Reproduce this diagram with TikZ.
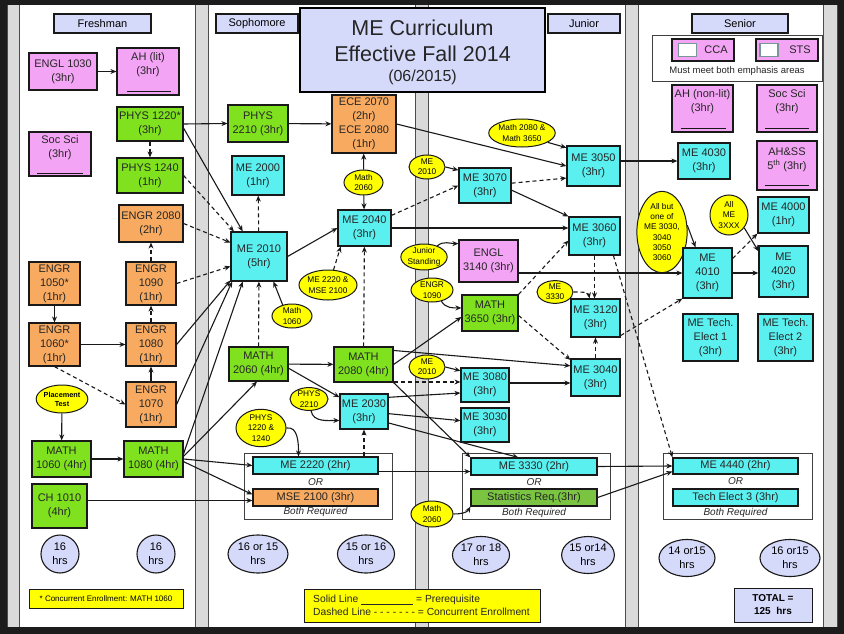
\documentclass[tikz,border=0pt]{standalone}
\usepackage{fontspec}
\setmainfont{Liberation Sans}
\usetikzlibrary{arrows.meta,shapes.geometric,calc}
\definecolor{pinkc}{RGB}{244,164,244}
\definecolor{greenc}{RGB}{128,226,30}
\definecolor{cyanc}{RGB}{90,240,240}
\definecolor{orangec}{RGB}{247,170,96}
\definecolor{yellowc}{RGB}{255,255,0}
\definecolor{lavc}{RGB}{214,218,250}
\definecolor{bandc}{RGB}{218,218,218}
\definecolor{darkc}{RGB}{28,28,28}
\definecolor{statc}{RGB}{122,196,66}
\definecolor{linec}{RGB}{25,25,25}
\definecolor{sqc}{RGB}{120,150,150}
\tikzset{
 box/.style={draw=linec, line width=1.2pt, rectangle, inner sep=0.5pt, align=center, font=\fontsize{11}{14}\selectfont, text=black!85},
 pbox/.style={box, fill=pinkc},
 gbox/.style={box, fill=greenc},
 cbox/.style={box, fill=cyanc},
 obox/.style={box, fill=orangec},
 yell/.style={draw=linec, line width=1pt, ellipse, fill=yellowc, inner sep=0pt, align=center, font=\fontsize{8.3}{10.3}\selectfont},
 hrs/.style={draw=linec, line width=1.1pt, ellipse, fill=lavc, inner sep=0pt, align=center, font=\fontsize{11}{14}\selectfont},
 head/.style={draw=linec, line width=1.1pt, fill=lavc, align=center, font=\fontsize{11}{13}\selectfont},
 grp/.style={draw=black!75, line width=0.9pt, fill=white},
 pre/.style={draw=linec, line width=1.1pt, -{Stealth[length=6pt,width=5pt]}},
 con/.style={pre, dash pattern=on 4pt off 3pt},
 lbl/.style={inner sep=0pt, align=center, font=\fontsize{11}{14}\selectfont, text=black!85},
 itl/.style={inner sep=0pt, font=\fontsize{10}{12}\selectfont\itshape, text=black!85},
 uline/.style={draw=linec, line width=0.9pt},
}
\begin{document}
\begin{tikzpicture}[x=1pt,y=-1pt]
\useasboundingbox (0,0) rectangle (844,634);
% background
\fill[darkc] (0,0) rectangle (844,634);
\fill[white] (7,5) rectangle (837,627);
\foreach \a/\b in {7/19,195/208,415/428,625/638,823/837}{
  \fill[bandc] (\a,5) rectangle (\b,627);
  \draw[black!70, line width=0.8pt] (\a,5) -- (\a,627) (\b,5) -- (\b,627);
}
% headers
\node[head, minimum width=97pt, minimum height=19pt] (hfr) at (102.5,23.5) {Freshman};
\node[head, minimum width=82pt, minimum height=19pt] (hso) at (257,23.5) {Sophomore};
\node[head, minimum width=72pt, minimum height=19pt] (hju) at (584,23.5) {Junior};
\node[head, minimum width=96pt, minimum height=19pt] (hse) at (740,23.5) {Senior};
% title
\node[draw=black, line width=2.4pt, fill=lavc, minimum width=245pt, minimum height=84pt] (title) at (422.5,50) {};
\node[lbl, font=\fontsize{21.5}{26}\selectfont] (title1) at (422.5,41) {ME Curriculum\\Effective Fall 2014};
\node[lbl, font=\fontsize{16}{18}\selectfont] (title2) at (422.5,77) {(06/2015)};
% senior legend
\node[draw=black!75, line width=0.9pt, fill=white, minimum width=170pt, minimum height=46pt] (slg) at (737,58) {};
\node[pbox, minimum width=62pt, minimum height=22pt] (cca) at (703,50) {};
\node[draw=sqc, line width=1.8pt, fill=white, minimum width=18pt, minimum height=13pt, inner sep=0pt] (ccasq) at (687.5,50) {};
\node[lbl] (ccat) at (716,50) {CCA};
\node[pbox, minimum width=62pt, minimum height=22pt] (sts) at (787,50) {};
\node[draw=sqc, line width=1.8pt, fill=white, minimum width=18pt, minimum height=13pt, inner sep=0pt] (stssq) at (769,50) {};
\node[lbl] (stst) at (800,50) {STS};
\node[lbl, font=\fontsize{9.5}{11}\selectfont] (slgt) at (737,71) {Must meet both emphasis areas};
% ---------------- Freshman
\node[pbox, minimum width=68pt, minimum height=37pt] (engl1030) at (63,71.5) {ENGL 1030\\(3hr)};
\node[pbox, minimum width=62pt, minimum height=47pt] (ahlit) at (148,71.5) {};
\node[lbl] (ahlitt) at (148,65) {AH (lit)\\(3hr)};
\draw[uline] (127,91) -- (171,91);
\node[gbox, minimum width=66pt, minimum height=34pt] (phys1220) at (150,124) {PHYS 1220*\\(3hr)};
\node[pbox, minimum width=62pt, minimum height=44pt] (socsci1) at (60,154) {};
\node[lbl] (socsci1t) at (60,148) {Soc Sci\\(3hr)};
\draw[uline] (37,173) -- (83,173);
\node[gbox, minimum width=66pt, minimum height=35pt] (phys1240) at (150,175.5) {PHYS 1240\\(1hr)};
\node[obox, minimum width=64pt, minimum height=37pt] (engr2080) at (151,223.5) {ENGR 2080\\(2hr)};
\node[obox, minimum width=51pt, minimum height=43pt] (engr1050) at (54.5,283.5) {ENGR\\1050*\\(1hr)};
\node[obox, minimum width=50pt, minimum height=43pt] (engr1090) at (151,283.5) {ENGR\\1090\\(1hr)};
\node[obox, minimum width=51pt, minimum height=43pt] (engr1060) at (54.5,344.5) {ENGR\\1060*\\(1hr)};
\node[obox, minimum width=50pt, minimum height=43pt] (engr1080) at (151,344.5) {ENGR\\1080\\(1hr)};
\node[obox, minimum width=50pt, minimum height=45pt] (engr1070) at (151,404.5) {ENGR\\1070\\(1hr)};
\node[yell, minimum width=49pt, minimum height=28pt, font=\fontsize{7.3}{9}\selectfont\bfseries] (placement) at (62,399) {Placement\\Test};
\node[gbox, minimum width=59pt, minimum height=36pt] (math1060) at (61.5,459) {MATH\\1060 (4hr)};
\node[gbox, minimum width=59pt, minimum height=36pt] (math1080) at (153.5,459) {MATH\\1080 (4hr)};
\node[gbox, minimum width=55pt, minimum height=44pt] (ch1010) at (59.5,506) {CH 1010\\(4hr)};
\node[hrs, minimum width=38pt, minimum height=38pt] (h1) at (60,554) {16\\hrs};
\node[hrs, minimum width=38pt, minimum height=38pt] (h2) at (156,554) {16\\hrs};
\node[draw=linec, line width=0.9pt, fill=yellowc, minimum width=154pt, minimum height=19pt, font=\fontsize{8}{9}\selectfont, inner sep=0pt] (note) at (106,598.5) {* Concurrent Enrollment: MATH 1060};
% ---------------- Sophomore
\node[gbox, minimum width=60pt, minimum height=37pt] (phys2210) at (258,123.5) {PHYS\\2210 (3hr)};
\node[obox, minimum width=64pt, minimum height=58pt] (ece) at (364,124) {ECE 2070\\(2hr)\\ECE 2080\\(1hr)};
\node[cbox, minimum width=52pt, minimum height=39pt] (me2000) at (258,175.5) {ME 2000\\(1hr)};
\node[yell, minimum width=39pt, minimum height=25pt] (em2060a) at (363.5,182.5) {Math\\2060};
\node[cbox, minimum width=56pt, minimum height=49pt] (me2010) at (259,256.5) {ME 2010\\(5hr)};
\node[cbox, minimum width=53pt, minimum height=36pt] (me2040) at (364.5,228) {ME 2040\\(3hr)};
\node[yell, minimum width=57pt, minimum height=30pt] (eme2220) at (328,285) {ME 2220 \&\\MSE 2100};
\node[yell, minimum width=40pt, minimum height=24pt] (em1060) at (292,316) {Math\\1060};
\node[gbox, minimum width=59pt, minimum height=34pt] (math2060) at (258.5,364) {MATH\\2060 (4hr)};
\node[gbox, minimum width=59pt, minimum height=35pt] (math2080) at (363.5,364.5) {MATH\\2080 (4hr)};
\node[yell, minimum width=38pt, minimum height=22pt] (ephys2210) at (309,399) {PHYS\\2210};
\node[cbox, minimum width=48pt, minimum height=35pt] (me2030) at (364,411.5) {ME 2030\\(3hr)};
\node[yell, minimum width=50pt, minimum height=36pt] (ephys1220) at (261,428) {PHYS\\1220 \&\\1240};
\draw[grp] (244,453) rectangle (392,519);
\node[cbox, minimum width=125pt, minimum height=17pt] (me2220) at (315.5,465.5) {ME 2220 (2hr)};
\node[itl] (or1) at (315.5,482) {OR};
\node[obox, minimum width=125pt, minimum height=17pt] (mse2100) at (315.5,497.5) {MSE 2100 (3hr)};
\node[itl] (br1) at (315.5,512) {Both Required};
\node[hrs, minimum width=60pt, minimum height=38pt] (h3) at (258,554) {16 or 15\\hrs};
\node[hrs, minimum width=55pt, minimum height=38pt] (h4) at (366,554) {15 or 16\\hrs};
\node[draw=linec, line width=0.9pt, fill=yellowc, minimum width=236pt, minimum height=33pt] (legend) at (422,605.5) {};
\node[inner sep=0pt, align=left, anchor=west, font=\fontsize{10.3}{12.7}\selectfont, text=black!85] (legendt) at (313,605.5) {Solid Line \underline{\hspace{52pt}} = Prerequisite\\Dashed Line - - - - - - - = Concurrent Enrollment};
% ---------------- Junior
\node[yell, minimum width=36pt, minimum height=24pt] (eme2010a) at (427,167) {ME\\2010};
\node[yell, minimum width=64pt, minimum height=28pt] (em2080) at (522,133) {Math 2080 \&\\Math 3650};
\node[cbox, minimum width=52pt, minimum height=35pt] (me3070) at (485,185.5) {ME 3070\\(3hr)};
\node[cbox, minimum width=53pt, minimum height=40pt] (me3050) at (593.5,166) {ME 3050\\(3hr)};
\node[cbox, minimum width=51pt, minimum height=38pt] (me3060) at (594.5,236) {ME 3060\\(3hr)};
\node[yell, minimum width=44pt, minimum height=26pt] (ejunior) at (424,257) {Junior\\Standing};
\node[pbox, minimum width=59pt, minimum height=42pt] (engl3140) at (488.5,261) {ENGL\\3140 (3hr)};
\node[yell, minimum width=42pt, minimum height=24pt] (eengr1090) at (432,290) {ENGR\\1090};
\node[gbox, minimum width=56pt, minimum height=36pt] (math3650) at (490,313) {MATH\\3650 (3hr)};
\node[yell, minimum width=36pt, minimum height=22pt] (eme3330) at (555,292) {ME\\3330};
\node[cbox, minimum width=49pt, minimum height=38pt] (me3120) at (595.5,318) {ME 3120\\(3hr)};
\node[yell, minimum width=36pt, minimum height=24pt] (eme2010b) at (427,367) {ME\\2010};
\node[cbox, minimum width=49pt, minimum height=37pt] (me3040) at (595.5,377.5) {ME 3040\\(3hr)};
\node[cbox, minimum width=48pt, minimum height=34pt] (me3080) at (485,385) {ME 3080\\(3hr)};
\node[cbox, minimum width=48pt, minimum height=34pt] (me3030) at (485,425) {ME 3030\\(3hr)};
\draw[grp] (462,453) rectangle (610,519);
\node[cbox, minimum width=126pt, minimum height=17pt] (me3330) at (534,466.5) {ME 3330 (2hr)};
\node[itl] (or2) at (534,482) {OR};
\node[box, fill=statc, minimum width=126pt, minimum height=17pt] (stats) at (534,497.5) {Statistics Req.(3hr)};
\node[itl] (br2) at (534,513) {Both Required};
\node[yell, minimum width=42pt, minimum height=26pt] (em2060b) at (432,514) {Math\\2060};
\node[hrs, minimum width=56pt, minimum height=37pt] (h5) at (481,555) {17 or 18\\hrs};
\node[hrs, minimum width=50pt, minimum height=37pt] (h6) at (588,555) {15 or14\\hrs};
% ---------------- Senior
\node[pbox, minimum width=61pt, minimum height=47pt] (ahnon) at (702.5,108.5) {};
\node[lbl] (ahnont) at (702.5,102) {AH (non-lit)\\(3hr)};
\draw[uline] (681,128) -- (726,128);
\node[pbox, minimum width=60pt, minimum height=47pt] (socsci2) at (787,108.5) {};
\node[lbl] (socsci2t) at (787,102) {Soc Sci\\(3hr)};
\draw[uline] (765,128) -- (809,128);
\node[cbox, minimum width=52pt, minimum height=36pt] (me4030) at (704,161) {ME 4030\\(3hr)};
\node[pbox, minimum width=60pt, minimum height=49pt] (ahss) at (787,165.5) {};
\node[lbl] (ahsst) at (787,160) {AH\&SS\\5\textsuperscript{th} (3hr)};
\draw[uline] (765,185) -- (809,185);
\node[yell, minimum width=44pt, minimum height=72pt] (eallbut) at (662,232) {All but\\one of\\ME 3030,\\3040\\3050\\3060};
\node[yell, minimum width=38pt, minimum height=40pt] (eallme) at (729,215) {All\\ME\\3XXX};
\node[cbox, minimum width=51pt, minimum height=36pt] (me4000) at (783.5,215) {ME 4000\\(1hr)};
\node[cbox, minimum width=49pt, minimum height=50pt] (me4010) at (707.5,273) {ME\\4010\\(3hr)};
\node[cbox, minimum width=49pt, minimum height=51pt] (me4020) at (783.5,271.5) {ME\\4020\\(3hr)};
\node[cbox, minimum width=55pt, minimum height=47pt] (te1) at (710.5,337.5) {ME Tech.\\Elect 1\\(3hr)};
\node[cbox, minimum width=55pt, minimum height=47pt] (te2) at (785.5,337.5) {ME Tech.\\Elect 2\\(3hr)};
\draw[grp] (663,453) rectangle (812,519);
\node[cbox, minimum width=125pt, minimum height=16pt] (me4440) at (735.5,466) {ME 4440 (2hr)};
\node[itl] (or3) at (735.5,481) {OR};
\node[cbox, minimum width=125pt, minimum height=17pt] (te3) at (735.5,497.5) {Tech Elect 3 (3hr)};
\node[itl] (br3) at (735.5,513) {Both Required};
\node[hrs, minimum width=56pt, minimum height=37pt] (h7) at (687,558) {14 or15\\hrs};
\node[hrs, minimum width=60pt, minimum height=37pt] (h8) at (790,558) {16 or15\\hrs};
\node[draw=linec, line width=1pt, fill=lavc, minimum width=78pt, minimum height=34pt, align=center, font=\fontsize{10}{13}\selectfont\bfseries] (total) at (773,605) {TOTAL =\\125\ \ hrs};
% ================= connectors
% Freshman
\draw[pre] (engl1030) -- (ahlit);
\draw[con] (phys1220) -- (phys1240);
\draw[pre] (phys1220.east) -- (phys2210.west);
\draw[pre] (phys1220.-7) -- (me2010.123);
\draw[con] (phys1240.east) -- (me2010.135);
\draw[con] (engr2080.east) -- (me2010.154);
\draw[con] (engr1090.east) -- (me2010.199);
\draw[pre] (engr1080.east) -- (me2010.220);
\draw[pre] (engr1070.east) -- (me2010.223);
\draw[pre] (math1080.10) -- (me2010.237);
\draw[pre] (math1080.5) -- (math2060.265);
\draw[pre] (math1080.east) -- (me2220.west);
\draw[pre] (math1080.-5) -- ([yshift=3pt]mse2100.west);
\coordinate (chin) at ([yshift=-3pt]mse2100.west);
\draw[pre] (ch1010.east |- chin) -- (chin);
\draw[pre] (engr1050) -- (engr1060);
\draw[pre] (engr1060) -- (engr1080);
\draw[con] (engr1060.south) -- (engr1070.west);
\draw[pre] (engr1070) -- (engr1080);
\draw[con] (engr1080) -- (engr1090);
\draw[con] (engr1090) -- (engr2080);
\draw[pre] (placement) -- (math1060);
\draw[pre] (math1060) -- (math1080);
% Sophomore
\draw[pre] (phys2210) -- (ece);
\draw[pre] (ece.east) -- (me3050.west);
\draw[pre] (em2060a) -- (ece);
\draw[pre] (em2060a) -- (me2040);
\draw[con] (me2010) -- (me2000);
\draw[pre] (me2010.east) -- (me2040.west);
\draw[con] (eme2220.70) -- (me2040.218);
\draw[pre] (em1060.130) -- (me2010.-60);
\draw[con] (math2060) -- (me2010);
\draw[pre] (math2060) -- (math2080);
\draw[con] (math2080) -- (me2040);
\draw[pre] (math2060.-8) -- (me2030.150);
\draw[pre] (ephys2210.-80) to[out=-80,in=180] (me2030.200);
\draw[pre] (ephys1220.east) to[out=10,in=90] ([xshift=-17pt]me2220.north);
\draw[con] (me2220.north -| me2030.south) -- (me2030.south);
\coordinate (mtin) at ([yshift=-5pt]me3330.west);
\draw[pre] (me2220.east |- mtin) -- (mtin);
% to Junior
\draw[con] (me2040.25) -- (me3070.west);
\draw[pre] (me2040.east) -- (me2040.east -| me3060.west);
\draw[pre] (eme2010a.east) -- (me3070.150);
\draw[pre] (em2080.-20) -- (me3050.146);
\draw[con] (me3070.5) -- (me3050.204);
\draw[pre] (me3070.-10) -- (me3060.north west);
\draw[pre] (ejunior.40) to[out=40,in=180] (engl3140.150);
\draw[pre] (eengr1090.-50) to[out=-60,in=180] (math3650.170);
\draw[pre] (math2080.east) -- (math3650.188);
\draw[pre] (math2080.25) -- (me3040.155);
\coordinate (mqd) at ([yshift=3pt]me3080.west);
\draw[con] (math2080.east |- mqd) -- (mqd);
\draw[pre] (eme2010b.east) -- (me3080.150);
\coordinate (mqs) at ([yshift=-8pt]me3080.west);
\draw[pre] (me2030.30) -- (mqs);
\draw[pre] (me2030.-5) -- (me3030.170);
\draw[pre] (me2030.-25) -- (me3330.150);
\draw[pre] (math2080.south east) -- (me3330.north west);
% Junior internal
\draw[con] (math3650.-5) -- (me3040.145);
\draw[con] (math3650.north east) -- (me3060.190);
\draw[con] (eme3330.east) to[out=0,in=100] ([xshift=-6pt]me3120.north);
\draw[con] (me3060.south) -- (me3060.south |- me3120.north);
\draw[con] (me3040) -- (me3120);
\coordinate (mfin) at ([yshift=-5.5pt]me3040.west);
\draw[pre] (me3080.east |- mfin) -- (mfin);
\draw[con] (me3120.-35) -- (me4010.south west);
\draw[con] (me3060.-46) -- (me4440.north west);
\draw[pre] (me4010.west -| engl3140.east) -- (me4010.west);
\draw[pre] (me4030.west -| me3050.east) -- (me4030.west);
\draw[pre] (em2060b.east) to[out=0,in=-120] (stats.south west);
\draw[pre] (stats.east) -- (me4440.185);
\draw[pre] (me3330.east) -- (me4440.west);
% Senior
\draw[pre] (eallbut.15) -- (me4010.115);
\draw[pre] (eallme.-40) -- (me4020.141);
\draw[con] (me4010.30) -- (me4000.south west);
\draw[pre] (me4010.east) -- (me4010.east -| me4020.west);
\end{tikzpicture}
\end{document}
